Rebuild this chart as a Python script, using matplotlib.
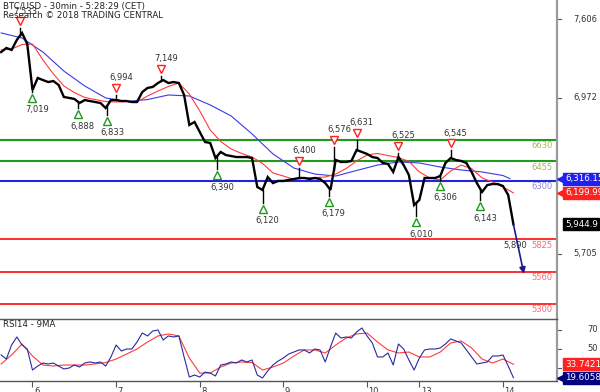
import numpy as np
import matplotlib
matplotlib.use("Agg")
import matplotlib.pyplot as plt
from matplotlib.transforms import blended_transform_factory as btf

# ---------------- data ----------------
bar_step = 3                      # closes sampled every 3 half-hour bars
close = [7342, 7375, 7359, 7440, 7497, 7407, 7034, 7132, 7115, 7099,
         7107, 7075, 6978, 6970, 6962, 6929, 6953, 6945, 6937, 6929,
         6888, 6953, 6953, 6945, 6945, 6937, 6937, 7018, 7051, 7059,
         7091, 7115, 7091, 7099, 7091, 6994, 6751, 6775, 6694, 6613,
         6605, 6483, 6532, 6507, 6499, 6491, 6491, 6491, 6483, 6248,
         6224, 6329, 6280, 6297, 6297, 6305, 6313, 6321, 6321, 6313,
         6321, 6313, 6280, 6224, 6467, 6451, 6451, 6459, 6548, 6532,
         6516, 6491, 6483, 6443, 6435, 6370, 6491, 6426, 6345, 6102,
         6143, 6321, 6321, 6321, 6337, 6443, 6483, 6467, 6459, 6443,
         6370, 6280, 6208, 6264, 6272, 6272, 6256, 6183, 5945]

ma_fast_step = 6
ma_fast = [7359, 7367, 7403, 7407, 7278, 7164, 7067, 7014, 6974, 6957,
           6941, 6937, 6941, 6937, 6986, 7026, 7063, 7091, 7002, 6864,
           6710, 6617, 6556, 6520, 6491, 6439, 6362, 6337, 6309, 6321,
           6325, 6329, 6353, 6398, 6459, 6507, 6520, 6503, 6487, 6455,
           6370, 6321, 6305, 6378, 6426, 6398, 6321, 6289, 6248, 6200]

ma_slow_idx = list(range(0, 289, 12)) + [292]
ma_slow = [7497, 7456, 7342, 7188, 7067, 6970, 6941, 6957, 6994, 6986,
           6913, 6824, 6678, 6516, 6402, 6353, 6337, 6382, 6426, 6451,
           6443, 6410, 6386, 6370, 6341, 6316]

rsi = [43.6, 39.3, 54.1, 62.6, 54.1, 49.9, 27.7, 31.9, 35.1, 34.1,
       35.1, 31.9, 28.8, 29.8, 33.0, 30.9, 35.1, 36.2, 35.1, 36.2,
       31.9, 41.5, 54.1, 47.8, 49.9, 49.9, 57.3, 66.8, 63.7, 68.9,
       70.0, 59.4, 63.7, 62.6, 63.7, 41.5, 20.3, 22.4, 20.3, 25.6,
       24.5, 21.4, 33.0, 34.1, 36.2, 35.1, 38.3, 36.2, 38.3, 22.4,
       19.3, 26.7, 33.0, 37.2, 40.4, 44.6, 46.7, 48.9, 48.9, 45.7,
       49.9, 48.9, 36.2, 52.0, 66.8, 61.5, 62.6, 61.5, 67.9, 72.1,
       63.7, 56.3, 41.5, 41.5, 45.7, 33.0, 55.2, 49.9, 38.3, 27.7,
       40.4, 48.9, 49.9, 49.9, 51.0, 55.2, 60.5, 58.4, 56.3, 48.9,
       41.5, 34.1, 35.1, 36.2, 42.5, 42.5, 43.6, 31.9, 19.6058]

rsi_ma = [34.1, 43.6, 55.2, 42.5, 33.0, 31.9, 33.0, 33.0, 33.0, 34.1,
          35.6, 39.3, 44.6, 49.9, 57.3, 63.7, 65.8, 63.7, 40.4, 24.5,
          24.5, 30.9, 35.1, 36.2, 35.6, 27.7, 30.9, 35.1, 42.5, 48.9,
          48.9, 45.7, 54.1, 61.5, 65.8, 66.8, 57.3, 48.9, 45.7, 46.7,
          41.5, 41.5, 46.7, 56.3, 58.4, 51.0, 39.3, 35.1, 39.3, 33.7421]

pivot_high_idx = [11, 66, 92, 171, 191, 204, 228, 258]
pivot_high = [7533, 6994, 7149, 6400, 6576, 6631, 6525, 6545]
pivot_low_idx = [18, 44, 61, 124, 150, 188, 238, 252, 275]
pivot_low = [7019, 6888, 6833, 6390, 6120, 6179, 6010, 6306, 6143]

resist_levels = [6630, 6455]
pivot_level = 6300
support_levels = [5825, 5560, 5300]
projection = 5890
target_price = 5545

day_idx = [18, 66, 114, 162, 210, 240, 288]
day_labels = ["6", "7", "8", "9", "10", "13", "14"]
price_ticks = [7606, 6972, 5705]
rsi_ticks = [70, 50, 30]

last_ma_slow = 6316.15
last_ma_fast = 6199.99
last_close = 5944.9
last_rsi_ma = 33.7421
last_rsi = 19.6058

# ---------------- figure ----------------
W, H = 600, 392
fig = plt.figure(figsize=(W / 100, H / 100), dpi=100)
fig.patch.set_facecolor("white")
plt.rcParams["font.family"] = ["DejaVu Sans"]

right = 557 / W
ax1 = fig.add_axes([0, 1 - 319 / H, right, 319 / H])
ax2 = fig.add_axes([0, 1 - 381 / H, right, (381 - 319) / H])

xlim = (-0.65, 319)
idx = np.arange(len(close)) * bar_step
fidx = np.arange(len(ma_fast)) * ma_fast_step

# main panel
ax1.plot(ma_slow_idx, ma_slow, color="#3a3ae8", lw=0.8, zorder=3)
ax1.plot(fidx, ma_fast, color="#ff3b3b", lw=0.8, zorder=3)
ax1.plot(idx, close, color="black", lw=1.7, zorder=4, solid_joinstyle="miter")

for i, v in zip(pivot_high_idx, pivot_high):
    base = np.interp(i, idx, close)
    ax1.plot([i, i], [base, v], color="black", lw=1.0, zorder=4)
    ax1.annotate("", (i, v))
    ax1.plot([i], [v], linestyle="none", marker="v", ms=6, mfc="white",
             mec="#ff2020", mew=1.0, zorder=6,
             transform=ax1.transData + matplotlib.transforms.ScaledTranslation(0, 7 / 100, fig.dpi_scale_trans))
    ax1.annotate(f"{v:,}", (i, v), xytext=(3.6, 12.5), textcoords="offset points",
                 ha="center", va="center", fontsize=6, color="#333333", zorder=7)

for i, v in zip(pivot_low_idx, pivot_low):
    base = np.interp(i, idx, close)
    ax1.plot([i, i], [base, v], color="black", lw=1.0, zorder=4)
    ax1.plot([i], [v], linestyle="none", marker="^", ms=6, mfc="white",
             mec="#1f9a1f", mew=1.0, zorder=6,
             transform=ax1.transData + matplotlib.transforms.ScaledTranslation(0, -6 / 100, fig.dpi_scale_trans))
    ax1.annotate(f"{v:,}", (i, v), xytext=(3.6, -13), textcoords="offset points",
                 ha="center", va="center", fontsize=6, color="#333333", zorder=7)

for lv in resist_levels:
    ax1.axhline(lv, color="#1f9a1f", lw=1.5, zorder=2)
ax1.axhline(pivot_level, color="#2424e0", lw=1.5, zorder=2)
for lv in support_levels:
    ax1.axhline(lv, color="#ff2020", lw=1.3, zorder=2)

lbl_tr = btf(fig.transFigure, ax1.transData)
for lv in resist_levels:
    ax1.annotate(str(lv), (553 / W, lv), xycoords=lbl_tr, xytext=(0, -4.2),
                 textcoords="offset points", ha="right", va="center",
                 fontsize=6, color="#a6b84a", zorder=7)
ax1.annotate(str(pivot_level), (553 / W, pivot_level), xycoords=lbl_tr, xytext=(0, -4.2),
             textcoords="offset points", ha="right", va="center",
             fontsize=6, color="#8a8ad8", zorder=7)
for lv in support_levels:
    ax1.annotate(str(lv), (553 / W, lv), xycoords=lbl_tr, xytext=(0, -4.2),
                 textcoords="offset points", ha="right", va="center",
                 fontsize=6, color="#ff6a6a", zorder=7)

# projection arrow and label
ax1.annotate("", xy=(idx[-1] + 6, target_price), xytext=(idx[-1], close[-1]),
             arrowprops=dict(arrowstyle="-|>", color="#1a1a90", lw=1.2,
                             mutation_scale=9, shrinkA=0, shrinkB=0), zorder=8)
ax1.annotate(f"{projection:,}", (idx[-1] + 1, projection), xytext=(0, -10.5),
             textcoords="offset points", ha="center", va="center",
             fontsize=6, color="#333333", zorder=7)

ax1.set_xlim(*xlim)
ax1.set_ylim(5178, 7764)
ax1.set_xticks([])
ax1.set_yticks([])
for s in ["left", "top", "bottom"]:
    ax1.spines[s].set_visible(False)
ax1.spines["right"].set_color("#9a9a9a")
ax1.spines["right"].set_linewidth(1.6)

# right price labels
for t in price_ticks:
    ax1.plot([right, right + 4 / W], [t, t], transform=lbl_tr, color="#555555",
             lw=0.8, clip_on=False)
    ax1.text(597 / W, t, f"{t:,}", transform=lbl_tr, ha="right", va="center",
             fontsize=6, color="#333333")


def tag(ax, value, text, color, arrow=True):
    tr = btf(fig.transFigure, ax.transData)
    if arrow:
        ax.plot([561 / W], [value], transform=tr, marker="<", ms=5.5, color=color,
                mec=color, clip_on=False, zorder=9)
    ax.text(565 / W, value, text, transform=tr, ha="left", va="center",
            fontsize=6.3, color="white", zorder=10, clip_on=False,
            bbox=dict(boxstyle="square,pad=0.18", fc=color, ec=color))


tag(ax1, last_ma_slow, f"{last_ma_slow:,.2f}", "#2020f0")
tag(ax1, last_ma_fast, f"{last_ma_fast:,.2f}", "#ff2020")
tag(ax1, last_close, f"{last_close:,.1f}", "#000000", arrow=False)

# titles
fig.text(3 / W, 1 - 6 / H, "BTC/USD - 30min - 5:28:29 (CET)", ha="left", va="center",
         fontsize=6.2, color="#222222")
fig.text(3 / W, 1 - 16 / H, "Research \u00a9 2018 TRADING CENTRAL", ha="left", va="center",
         fontsize=6.2, color="#222222")

# RSI panel
ax2.plot(np.arange(len(rsi_ma)) * ma_fast_step, rsi_ma, color="#ff3b3b", lw=0.8, zorder=3)
ax2.plot(idx, rsi, color="#2a2aa0", lw=0.8, zorder=4)
ax2.set_xlim(*xlim)
ax2.set_ylim(16.1, 81.6)
ax2.set_yticks([])
ax2.spines["left"].set_visible(False)
ax2.spines["top"].set_color("#555555")
ax2.spines["top"].set_linewidth(1.0)
ax2.spines["bottom"].set_color("#555555")
ax2.spines["bottom"].set_linewidth(1.0)
ax2.spines["right"].set_color("#9a9a9a")
ax2.spines["right"].set_linewidth(1.6)
ax2.set_xticks(day_idx)
ax2.set_xticklabels(day_labels, fontsize=6, color="#333333", ha="left")
ax2.tick_params(axis="x", direction="out", length=4, width=0.8, color="#555555", pad=0.5)
for lab in ax2.get_xticklabels():
    lab.set_x(lab.get_position()[0])
import matplotlib.transforms as mtrans
for lab in ax2.get_xticklabels():
    lab.set_transform(lab.get_transform() + mtrans.ScaledTranslation(1.5 / 100, 0, fig.dpi_scale_trans))

rtr = btf(fig.transFigure, ax2.transData)
for t in rsi_ticks:
    ax2.plot([right, right + 4 / W], [t, t], transform=rtr, color="#555555", lw=0.8, clip_on=False)
    if t != 30:
        ax2.text(598 / W, t, str(t), transform=rtr, ha="right", va="center",
                 fontsize=6, color="#333333")
ax2.text(3 / W, 76, "RSI14 - 9MA", transform=rtr, ha="left", va="center",
         fontsize=6.2, color="#222222")

tag(ax2, last_rsi_ma, f"{last_rsi_ma:.4f}", "#ff2020", arrow=False)
tag(ax2, last_rsi, f"{last_rsi:.4f}", "#000080")

fig.savefig("out.png", dpi=100, facecolor="white")
